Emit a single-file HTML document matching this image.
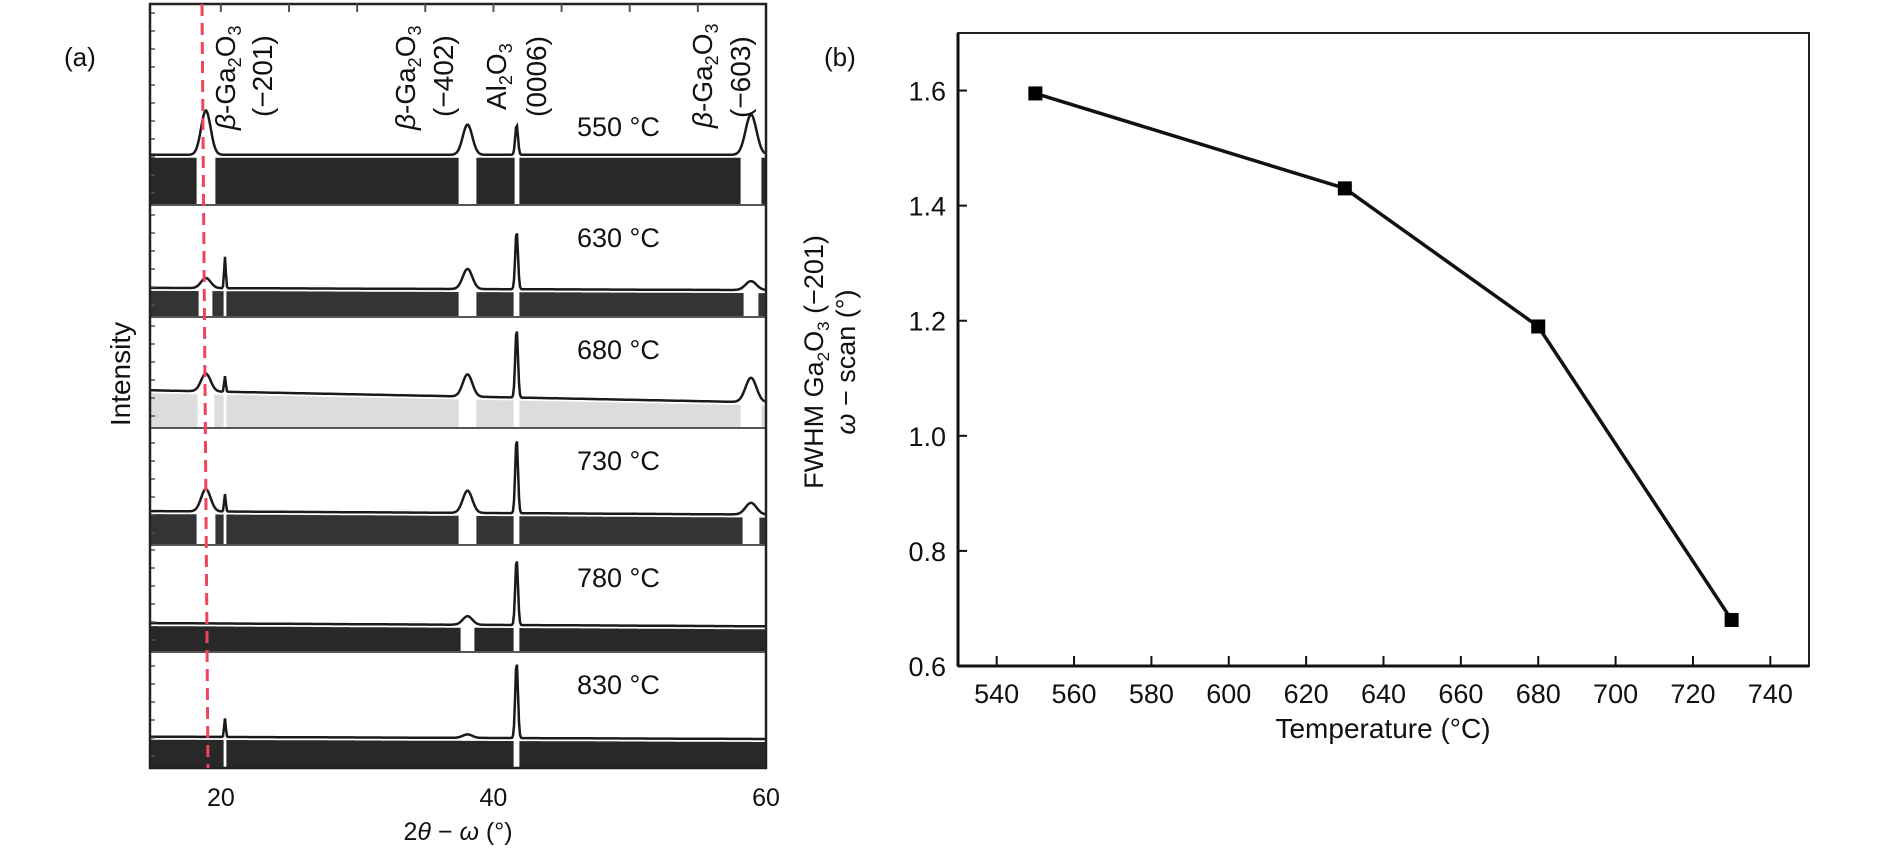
<!DOCTYPE html>
<html><head><meta charset="utf-8"><style>
html,body{margin:0;padding:0;background:#fff;}
svg{display:block;font-family:"Liberation Sans",sans-serif;}
</style></head><body>
<svg id="fig" width="1890" height="850" viewBox="0 0 1890 850" xmlns="http://www.w3.org/2000/svg">
<g id="pa"></g>
<g id="pb"></g>
</svg>
<script>
// ---------- Panel (a) data ----------
const xrdTemps = ['550 °C','630 °C','680 °C','730 °C','780 °C','830 °C'];
const peakPos = [18.9, 38.1, 41.7, 58.9, 20.3];
const peakWidth = [0.35, 0.35, 0.1, 0.4, 0.06];
// per-panel normalized (0..1 of panel height) baseline left/right and peak heights
const baseLeft = [0.25, 0.26, 0.34, 0.29, 0.27, 0.27];
const baseRight = [0.25, 0.24, 0.23, 0.26, 0.24, 0.25];
const h201 = [0.22, 0.09, 0.16, 0.19, 0.0, 0.0];
const h402 = [0.15, 0.18, 0.20, 0.19, 0.08, 0.03];
const hAl = [0.15, 0.52, 0.62, 0.64, 0.62, 0.66];
const h603 = [0.20, 0.08, 0.22, 0.10, 0.0, 0.0];
const hSpike = [0.0, 0.28, 0.14, 0.15, 0.0, 0.16];
const fillDensity = [0.9, 0.85, 0.15, 0.85, 0.9, 0.9];
const xTicksA = [20, 40, 60];

// ---------- Panel (b) data ----------
const tempsB = [550, 630, 680, 730];
const fwhmB = [1.595, 1.43, 1.19, 0.68];
const xTicksB = [540,560,580,600,620,640,660,680,700,720,740];
const yTicksB = [0.6, 0.8, 1.0, 1.2, 1.4, 1.6];

const NS = 'http://www.w3.org/2000/svg';
function mk(parent, tag, attrs, text){
  const e = document.createElementNS(NS, tag);
  for (const k in attrs) e.setAttribute(k, attrs[k]);
  if (text !== undefined) e.textContent = text;
  parent.appendChild(e);
  return e;
}

// ===== Panel (a) =====
const pa = document.getElementById('pa');
const aL = 150, aR = 766, aT = 4, aB = 768;
const xMinA = 14.8, xMaxA = 60;
function xA(v){ return aL + (v - xMinA) / (xMaxA - xMinA) * (aR - aL); }
const panelEdges = [4, 205, 317, 428, 545, 652, 768];

for (let p = 0; p < xrdTemps.length; p++) {
  const top = panelEdges[p], bot = panelEdges[p+1], H = bot - top;
  const heights = [h201[p], h402[p], hAl[p], h603[p], hSpike[p]];
  const g = mk(pa, 'g', {});
  
  
  let pts = [];
  let fillD = '';
  for (let px = aL + 1; px < aR; px += 1) {
    const v = xMinA + (px - aL) / (aR - aL) * (xMaxA - xMinA);
    const t = (px - aL) / (aR - aL);
    const base = baseLeft[p] + (baseRight[p] - baseLeft[p]) * t;
    let pk = 0;
    for (let k = 0; k < peakPos.length; k++) {
      const d = (v - peakPos[k]) / peakWidth[k];
      pk += heights[k] * Math.exp(-0.5 * d * d);
    }
    const y = bot - (base + pk) * H;
    pts.push(px + ',' + y.toFixed(1));
    if (pk < 0.03) {
      fillD += 'M' + px + ' ' + (bot - base * H + 3).toFixed(1) + 'V' + (bot - 1);
    }
  }
  mk(g, 'path', {d: fillD, stroke: '#111', 'stroke-width': 1.2, opacity: fillDensity[p], fill: 'none'});
  mk(g, 'polyline', {points: pts.join(' '), fill: 'none', stroke: '#1a1a1a', 'stroke-width': 2.5});
  const lbl = mk(pa, 'text', {x: 577, y: top + (p === 0 ? 132 : 42), 'font-size': 27, fill: '#111'}, xrdTemps[p]);
  
  
  if (p > 0) {
    const s = mk(pa, 'line', {x1: aL, x2: aR, y1: top, y2: top, stroke: '#555', 'stroke-width': 2});
    
    
  }
  for (let yy = bot - 12; yy > top + 4; yy -= 18) {
    mk(pa, 'line', {x1: aL, x2: aL + 5, y1: yy, y2: yy, stroke: '#555', 'stroke-width': 1.5});
  }
}
const frA = mk(pa, 'rect', {x: aL, y: aT, width: aR - aL, height: aB - aT, fill: 'none', stroke: '#222', 'stroke-width': 2.5});


for (let v = 20; v < 60; v += 5) {
  mk(pa, 'line', {x1: xA(v), x2: xA(v), y1: aT, y2: aT + 8, stroke: '#555', 'stroke-width': 2});
}
const dl = mk(pa, 'line', {x1: 202, y1: aT, x2: 208, y2: aB, stroke: '#f0445a', 'stroke-width': 3, 'stroke-dasharray': '12,7'});


for (const t of xTicksA) {
  const e = mk(pa, 'text', {x: xA(t), y: 806, 'font-size': 25, 'text-anchor': 'middle', fill: '#111'}, String(t));
  
  
}
let e;
e = mk(pa, 'text', {x: 458, y: 840, 'font-size': 25, 'text-anchor': 'middle', fill: '#111'});
e.innerHTML = '2<tspan font-style="italic">θ</tspan> − <tspan font-style="italic">ω</tspan> (°)';


e = mk(pa, 'text', {x: 0, y: 0, 'font-size': 28, 'text-anchor': 'middle', fill: '#111', transform: 'translate(130,374) rotate(-90)'}, 'Intensity');


e = mk(pa, 'text', {x: 64, y: 66, 'font-size': 26, fill: '#111'}, '(a)');


function ann(cx, yb, html, name){
  const t = mk(pa, 'text', {x: 0, y: 0, 'font-size': 28, fill: '#111', transform: 'translate(' + cx + ',' + yb + ') rotate(-90)'});
  t.innerHTML = html;
  
  
}
const gaHtml = '<tspan font-style="italic">β</tspan>-Ga<tspan font-size="18" dy="6">2</tspan><tspan dy="-6">O</tspan><tspan font-size="18" dy="6">3</tspan>';
ann(235, 130, gaHtml, 'peak-label-201');
ann(272, 117, '(−201)', 'peak-index-201');
ann(415, 130, gaHtml, 'peak-label-402');
ann(453, 117, '(−402)', 'peak-index-402');
ann(506, 110, 'Al<tspan font-size="18" dy="6">2</tspan><tspan dy="-6">O</tspan><tspan font-size="18" dy="6">3</tspan>', 'peak-label-al2o3');
ann(546, 117, '(0006)', 'peak-index-0006');
ann(712, 128, gaHtml, 'peak-label-603');
ann(750, 118, '(−603)', 'peak-index-603');

// ===== Panel (b) =====
const pb = document.getElementById('pb');
const bL = 958, bR = 1809, bT = 33, bB = 666;
const xMinB = 530, xMaxB = 750, yMinB = 0.6, yMaxB = 1.7;
function xB(v){ return bL + (v - xMinB) / (xMaxB - xMinB) * (bR - bL); }
function yB(v){ return bB - (v - yMinB) / (yMaxB - yMinB) * (bB - bT); }
e = mk(pb, 'rect', {x: bL, y: bT, width: bR - bL, height: bB - bT, fill: 'none', stroke: '#222', 'stroke-width': 2});


mk(pb, 'line', {x1: bL, x2: bR, y1: bB, y2: bB, stroke: '#111', 'stroke-width': 3});
mk(pb, 'line', {x1: bL, x2: bL, y1: bT, y2: bB, stroke: '#111', 'stroke-width': 3});
for (const t of xTicksB) {
  mk(pb, 'line', {x1: xB(t), x2: xB(t), y1: bB, y2: bB - 10, stroke: '#111', 'stroke-width': 2});
  const l = mk(pb, 'text', {x: xB(t), y: 703, 'font-size': 27, 'text-anchor': 'middle', fill: '#111'}, String(t));
  
  
}
for (const t of yTicksB) {
  mk(pb, 'line', {x1: bL, x2: bL + 9, y1: yB(t), y2: yB(t), stroke: '#111', 'stroke-width': 2});
  const l = mk(pb, 'text', {x: 946, y: yB(t) + 10, 'font-size': 27, 'text-anchor': 'end', fill: '#111'}, t.toFixed(1));
  
  
}
const linePts = tempsB.map((t, i) => xB(t) + ',' + yB(fwhmB[i])).join(' ');
e = mk(pb, 'polyline', {points: linePts, fill: 'none', stroke: '#111', 'stroke-width': 3.5});


tempsB.forEach((t, i) => {
  const m = mk(pb, 'rect', {x: xB(t) - 7, y: yB(fwhmB[i]) - 7, width: 14, height: 14, fill: '#000'});
  
  
});
e = mk(pb, 'text', {x: 1383, y: 738, 'font-size': 28, 'text-anchor': 'middle', fill: '#111'}, 'Temperature (°C)');


e = mk(pb, 'text', {x: 0, y: 0, 'font-size': 27, 'text-anchor': 'middle', fill: '#111', transform: 'translate(823,362) rotate(-90)'});
e.innerHTML = 'FWHM Ga<tspan font-size="17" dy="6">2</tspan><tspan dy="-6">O</tspan><tspan font-size="17" dy="6">3</tspan><tspan dy="-6"> (−201)</tspan>';


e = mk(pb, 'text', {x: 0, y: 0, 'font-size': 27, 'text-anchor': 'middle', fill: '#111', transform: 'translate(855,362) rotate(-90)'});
e.innerHTML = '<tspan font-style="italic">ω</tspan> − scan (°)';


e = mk(pb, 'text', {x: 824, y: 66, 'font-size': 26, fill: '#111'}, '(b)');


</script>
</body></html>
